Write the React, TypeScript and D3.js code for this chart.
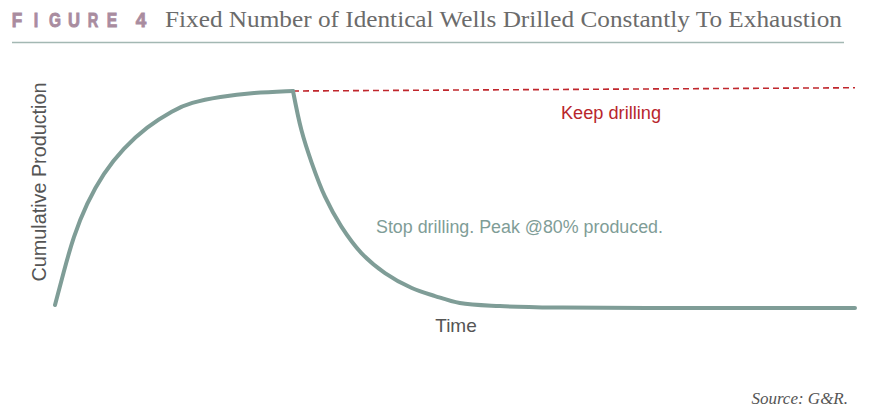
import React from "react";
import * as d3 from "d3";

const riseTime = [0, 1.04, 2.3, 3.96, 6.04, 8.54, 11.46, 14.8, 16.9, 20.6, 24.75, 29.75];
const riseValue = [1.4, 16, 32.9, 48.2, 62.1, 73.6, 83.5, 91.2, 94.6, 97.4, 99.2, 100];
const fallTime = [29.75, 30.8, 32.1, 33.75, 35.8, 38.3, 41.25, 44.6, 47.5, 50.6, 55.6, 63, 74, 100];
const fallValue = [100, 82, 66.8, 51.3, 37.5, 25.3, 16.1, 9.2, 5.5, 2.3, 0.9, 0.2, 0, 0];
const keepTime = [29.75, 100];
const keepValue = [100, 101.5];
const figureLetters = ["F", "I", "G", "U", "R", "E", "", "4"];

const W = 874;
const H = 420;

export default function App() {
  const x = d3.scaleLinear().domain([0, 100]).range([55, 855]);
  const y = d3.scaleLinear().domain([0, 100]).range([308, 91]);
  const riseLine = d3
    .line<[number, number]>()
    .x((d) => x(d[0]))
    .y((d) => y(d[1]))
    .curve(d3.curveBasis);
  const fallLine = d3
    .line<[number, number]>()
    .x((d) => x(d[0]))
    .y((d) => y(d[1]))
    .curve(d3.curveCatmullRom.alpha(0.5));
  const straight = d3
    .line<[number, number]>()
    .x((d) => x(d[0]))
    .y((d) => y(d[1]));
  const letterX = d3
    .scaleLinear()
    .domain([0, 5])
    .range([17, 112]);

  const rise = riseTime.map((t, i) => [t, riseValue[i]] as [number, number]);
  const fall = fallTime.map((t, i) => [t, fallValue[i]] as [number, number]);
  const keep = keepTime.map((t, i) => [t, keepValue[i]] as [number, number]);

  return (
    <svg
      width={W}
      height={H}
      style={{ position: "absolute", left: 0, top: 0, background: "#fff" }}
    >
      <g
        fontFamily="'Liberation Sans', Arial, sans-serif"
        fontWeight="bold"
        fontSize={21}
        fill="#a98c9f"
        stroke="#a98c9f"
        strokeWidth={0.9}
      >
        {figureLetters.map((l, i) => {
          if (!l) return null;
          const w = l === "I" ? 4.5 : l === "G" || l === "U" ? 12 : 10.5;
          const cx = l === "4" ? 141 : letterX(i);
          return (
            <text
              key={i}
              x={cx - w / 2}
              y={27}
              textLength={w}
              lengthAdjust="spacingAndGlyphs"
            >
              {l}
            </text>
          );
        })}
      </g>
      <text
        x={165}
        y={27}
        fontFamily="'Liberation Serif', serif"
        fontSize={23}
        fill="#6b6b6b"
        textLength={677}
        lengthAdjust="spacingAndGlyphs"
      >
        Fixed Number of Identical Wells Drilled Constantly To Exhaustion
      </text>
      <line x1={12} x2={844} y1={42.5} y2={42.5} stroke="#a3b8b3" strokeWidth={1.5} />

      <path
        d={straight(keep) || ""}
        fill="none"
        stroke="#c0272d"
        strokeWidth={1.6}
        strokeDasharray="6,4"
      />
      <path
        d={riseLine(rise) || ""}
        fill="none"
        stroke="#7f9d97"
        strokeWidth={4}
        strokeLinecap="round"
      />
      <path
        d={fallLine(fall) || ""}
        fill="none"
        stroke="#7f9d97"
        strokeWidth={4}
        strokeLinecap="round"
      />

      <text
        transform="translate(46,182) rotate(-90)"
        textAnchor="middle"
        fontFamily="'Liberation Sans', Arial, sans-serif"
        fontSize={20}
        fill="#555"
        textLength={199}
        lengthAdjust="spacingAndGlyphs"
      >
        Cumulative Production
      </text>
      <text
        x={456}
        y={332}
        textAnchor="middle"
        fontFamily="'Liberation Sans', Arial, sans-serif"
        fontSize={19}
        fill="#555"
      >
        Time
      </text>
      <text
        x={561}
        y={119}
        fontFamily="'Liberation Sans', Arial, sans-serif"
        fontSize={18}
        fill="#b8262c"
        textLength={100}
        lengthAdjust="spacingAndGlyphs"
      >
        Keep drilling
      </text>
      <text
        x={376}
        y={233}
        fontFamily="'Liberation Sans', Arial, sans-serif"
        fontSize={18}
        fill="#7f9d97"
        textLength={287}
        lengthAdjust="spacingAndGlyphs"
      >
        Stop drilling. Peak @80% produced.
      </text>
      <text
        x={848}
        y={404}
        textAnchor="end"
        fontFamily="'Liberation Serif', serif"
        fontStyle="italic"
        fontSize={17}
        fill="#555"
      >
        Source: G&amp;R.
      </text>
    </svg>
  );
}
